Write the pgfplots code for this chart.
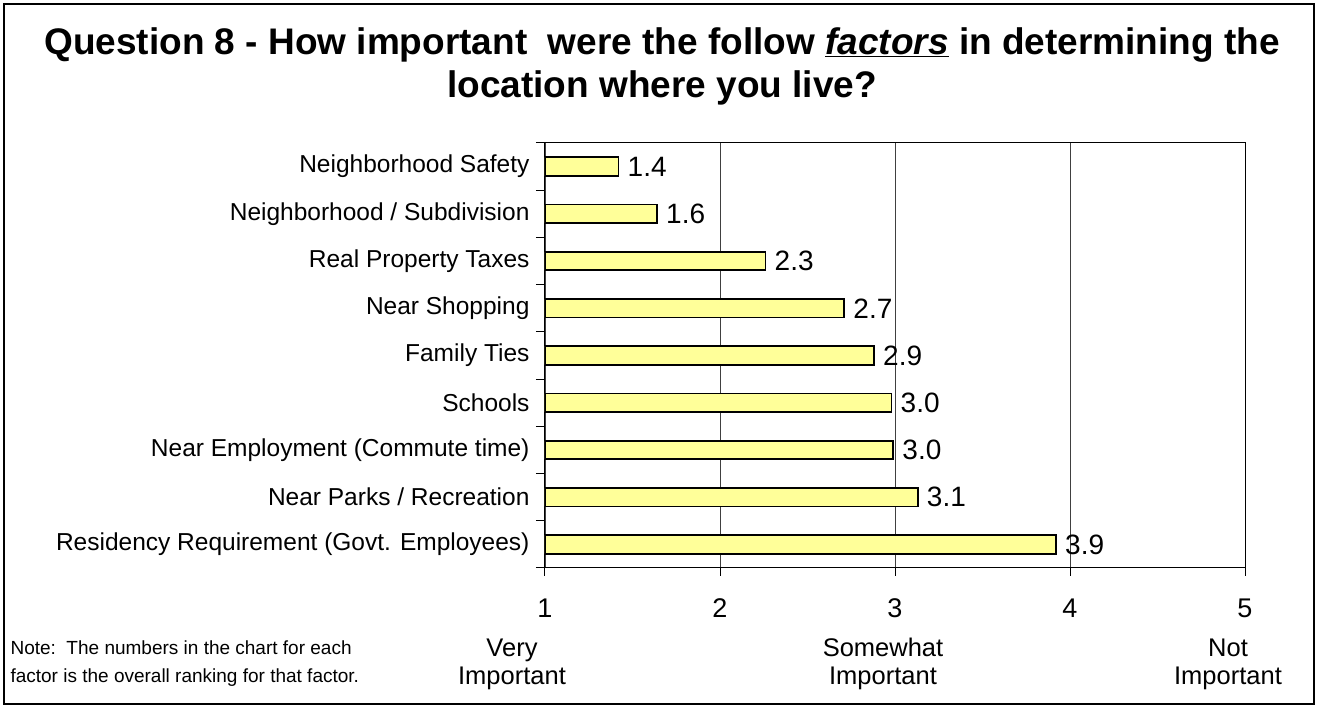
\documentclass[border=0pt]{standalone}
\usepackage{fontspec}
\setmainfont{Liberation Sans}
\usepackage{pgfplots}
\pgfplotsset{compat=1.18}
\definecolor{barfill}{HTML}{FFFF99}

\begin{document}
\begin{tikzpicture}[x=1pt,y=1pt]
\useasboundingbox (0,0) rectangle (1318,708);
\draw[line width=1.2pt] (4,4) rectangle (1314,704);

% title
\node[font=\bfseries\fontsize{37}{43}\selectfont, align=center] at (662,642)
  {Question 8 - How important\ \ were the follow \underline{\textit{factors}} in determining the\\ location where you live?};

\begin{axis}[
  at={(545pt,140pt)}, anchor=south west, scale only axis,
  width=700pt, height=425pt,
  xbar, bar width=18.5pt,
  xmin=1, xmax=5, ymin=-0.5, ymax=8.5,
  xtick={1,2,3,4,5},
  ytick={0,...,8},
  yticklabels={Residency Requirement (Govt. Employees),
               Near Parks / Recreation,
               Near Employment (Commute time),
               Schools,
               Family Ties,
               Near Shopping,
               Real Property Taxes,
               Neighborhood / Subdivision,
               Neighborhood Safety},
  minor ytick={-0.5,0.5,...,8.5},
  every major y tick/.style={draw=none},
  tick align=outside, major tick length=8pt, minor tick length=9pt,
  xtick pos=bottom, ytick pos=left,
  axis line style={black, line width=1pt},
  tick style={black, line width=1pt},
  xmajorgrids, major grid style={black!75, line width=0.9pt},
  /pgf/number format/assume math mode=true,
  xticklabel style={font=\fontsize{27}{27}\selectfont, yshift=-19pt},
  yticklabel style={font=\fontsize{24.5}{24.5}\selectfont, xshift=-4pt},
  point meta=x,
  nodes near coords={\pgfmathprintnumber[fixed,fixed zerofill,precision=1]{\pgfplotspointmeta}},
  every node near coord/.append style={font=\fontsize{28}{28}\selectfont, anchor=west, xshift=5pt, /pgf/number format/assume math mode=true},
]
\addplot[draw=black, line width=1.8pt, fill=barfill] coordinates {
  (3.92,0) (3.13,1) (2.99,2) (2.98,3) (2.88,4) (2.71,5) (2.26,6) (1.64,7) (1.42,8)
};
\end{axis}

% scale descriptions under the axis
\node[font=\fontsize{25.5}{28}\selectfont, align=center] at (512,44) {Very\\Important};
\node[font=\fontsize{25.5}{28}\selectfont, align=center] at (883,44) {Somewhat\\Important};
\node[font=\fontsize{25.5}{28}\selectfont, align=center] at (1228,44) {Not\\Important};

% note
\node[font=\fontsize{19}{28}\selectfont, align=left, anchor=west] at (7,44)
  {Note:\ \ The numbers in the chart for each\\factor is the overall ranking for that factor.};
\end{tikzpicture}
\end{document}
